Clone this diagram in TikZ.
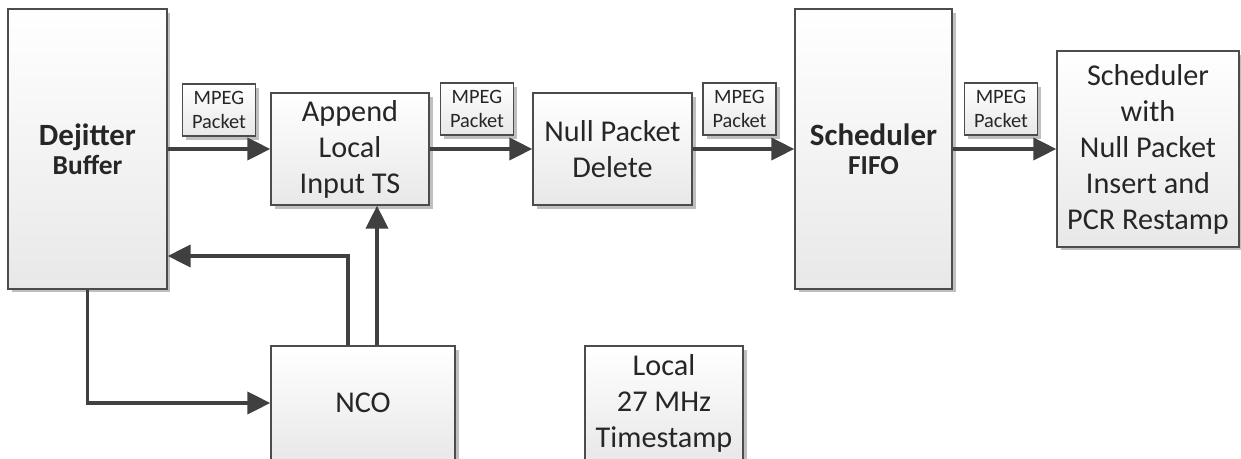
\documentclass[tikz,border=0pt]{standalone}
\usepackage{fontspec}
\setmainfont{Carlito}
\usetikzlibrary{arrows.meta,shadows}

\begin{document}
\begin{tikzpicture}[
      x=0.02cm, y=-0.02cm,
      block/.style = {rectangle, draw=black!70, line width=0.8pt,
                      top color=white, bottom color=black!9,
                      drop shadow={shadow xshift=2pt, shadow yshift=-2pt,
                                   opacity=.25, fill=black},
                      align=center, inner sep=0pt, text=black!85,
                      font=\fontsize{17.2}{20.5}\selectfont},
      tag/.style = {block, minimum width=1.46cm, minimum height=1.04cm,
                    font=\fontsize{11.6}{13.6}\selectfont},
      arrow/.style = {-{Triangle[length=13pt,width=12.5pt]},
                      line width=2.1pt, draw=black!75}
    ]
    \useasboundingbox (0,0) rectangle (1241,459);

    % Blocks
    \node[block, minimum width=3.18cm, minimum height=5.6cm] (dejitter) at (87.5,149)
      {{\fontsize{17.6}{20}\selectfont\textbf{Dejitter}}\\[-4pt]{\fontsize{15.6}{16}\selectfont\textbf{Buffer}}};
    \node[block, minimum width=3.16cm, minimum height=2.24cm] (append) at (350,149)
      {Append\\Local\\Input TS};
    \node[block, minimum width=3.18cm, minimum height=2.24cm] (nulldel) at (612.5,149)
      {Null Packet\\Delete};
    \node[block, minimum width=3.14cm, minimum height=5.6cm] (fifo) at (873.5,149)
      {{\fontsize{17.6}{20}\selectfont\textbf{Scheduler}}\\[-4pt]{\fontsize{15.6}{16}\selectfont\textbf{FIFO}}};
    \node[block, minimum width=3.64cm, minimum height=3.92cm] (sched) at (1148,149)
      {Scheduler\\with\\Null Packet\\Insert and\\PCR Restamp};
    \node[block, minimum width=3.68cm, minimum height=2.28cm] (nco) at (363,403) {NCO};
    \node[block, minimum width=3.16cm, minimum height=2.28cm] (clock) at (664,403)
      {Local\\27 MHz\\Timestamp};

    % Packet tags
    \node[tag] (tag1) at (219,110) {MPEG\\Packet};
    \node[tag] (tag2) at (477,109) {MPEG\\Packet};
    \node[tag] (tag3) at (739.5,109) {MPEG\\Packet};
    \node[tag] (tag4) at (1001,109) {MPEG\\Packet};

    % Arrows
    \draw[arrow] (dejitter) -- (append);
    \draw[arrow] (append)   -- (nulldel);
    \draw[arrow] (nulldel)  -- (fifo);
    \draw[arrow] (fifo)     -- (sched);
    \draw[arrow] ([xshift=0.28cm]nco.north) -- ([xshift=0.28cm]nco.north |- append.south);
    \draw[arrow] ([xshift=-0.3cm]nco.north) |- (dejitter.east |- 0,256);
    \draw[arrow] (dejitter.south) |- (nco.west);
  \end{tikzpicture}
\end{document}
